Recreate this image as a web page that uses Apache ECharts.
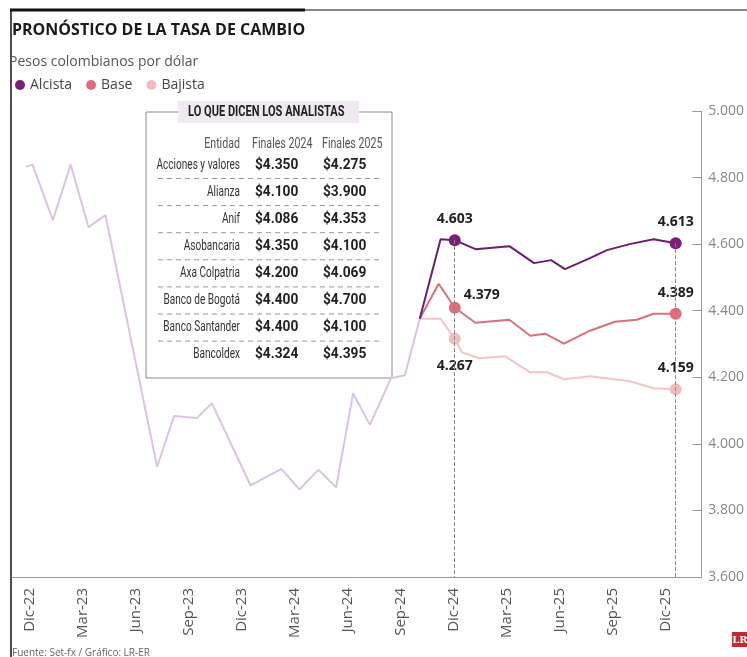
<!DOCTYPE html>
<html>
<head>
<meta charset="utf-8">
<script src="https://cdn.jsdelivr.net/npm/echarts@6/dist/echarts.min.js"></script>
<style>
  html, body { margin: 0; padding: 0; background: #fff; }
  #chart { width: 747px; height: 657px; }
</style>
</head>
<body>
<div id="chart"></div>
<script>
// eje x en meses contados desde dic-22 (0 = Dic-22)
const mesesTick = [0, 3, 6, 9, 12, 15, 18, 21, 24, 27, 30, 33, 36];
const etiquetasMes = ['Dic-22', 'Mar-23', 'Jun-23', 'Sep-23', 'Dic-23', 'Mar-24', 'Jun-24',
  'Sep-24', 'Dic-24', 'Mar-25', 'Jun-25', 'Sep-25', 'Dic-25'];

// historico
const histMes = [-0.21, 0.16, 1.31, 2.32, 3.33, 4.29, 7.21, 8.17, 9.47, 10.31, 12.5, 14.24,
  15.26, 16.33, 17.34, 18.3, 19.25, 20.44, 21.23, 22.07];
const histValor = [4833, 4839, 4672, 4839, 4651, 4687, 3931, 4084, 4078, 4122, 3875, 3925,
  3863, 3922, 3869, 4152, 4057, 4197, 4206, 4376];

// escenarios
const alcistaMes = [22.07, 23.25, 24.05, 25.22, 27.14, 28.54, 29.5, 30.29, 31.7, 32.66, 33.95, 35.3, 36.55];
const alcistaValor = [4376, 4615, 4612, 4585, 4594, 4543, 4552, 4525, 4558, 4582, 4600, 4615, 4603];
const baseMes = [22.07, 23.14, 24.05, 25.22, 27.14, 28.32, 29.16, 30.23, 31.7, 33.11, 34.35, 35.3, 36.55];
const baseValor = [4376, 4481, 4409, 4364, 4373, 4325, 4331, 4301, 4340, 4367, 4373, 4391, 4391];
const bajistaMes = [22.07, 23.25, 24.05, 24.45, 25.44, 26.91, 28.32, 29.27, 30.23, 31.7, 33.95, 35.3, 36.55];
const bajistaValor = [4376, 4376, 4316, 4275, 4257, 4263, 4215, 4215, 4194, 4203, 4188, 4167, 4164];

// etiquetas de los puntos marcados [dic-24, dic-25]
const etqAlcista = ['4.603', '4.613'];
const etqBase = ['4.379', '4.389'];
const etqBajista = ['4.267', '4.159'];
const idxMarcados = [2, 12];

// tabla de analistas
const entidades = ['Acciones y valores', 'Alianza', 'Anif', 'Asobancaria', 'Axa Colpatria',
  'Banco de Bogotá', 'Banco Santander', 'Bancoldex'];
const finales2024 = ['$4.350', '$4.100', '$4.086', '$4.350', '$4.200', '$4.400', '$4.400', '$4.324'];
const finales2025 = ['$4.275', '$3.900', '$4.353', '$4.100', '$4.069', '$4.700', '$4.100', '$4.395'];

const FONT = '"Open Sans", sans-serif';
const TABLA = 'Roboto, sans-serif';

const lblStyle = { fontFamily: FONT, fontWeight: 'bold', fontSize: 14, color: '#222' };

function serieEscenario(nombre, meses, valores, etiquetas, colorLinea, colorPunto, posiciones) {
  const data = meses.map((m, i) => {
    const k = idxMarcados.indexOf(i);
    if (k < 0) return [m, valores[i]];
    return {
      value: [m, valores[i]],
      symbol: 'circle',
      symbolSize: 12,
      itemStyle: { color: colorPunto },
      label: Object.assign({ show: true, formatter: etiquetas[k] }, lblStyle, posiciones[k])
    };
  });
  return {
    name: nombre,
    type: 'line',
    symbol: 'none',
    data: data,
    lineStyle: { color: colorLinea, width: 2 },
    itemStyle: { color: colorPunto },
    z: 3
  };
}

// texto angosto para la tabla (fuente comprimida en x)
function textoTabla(txt, x, y, align, font, color, sx) {
  return {
    type: 'text', x: x, y: y, scaleX: sx, z: 3,
    style: { text: txt, font: font, fill: color, align: align, verticalAlign: 'middle' }
  };
}

const graficos = [];
// lineas superiores y borde
graficos.push({ type: 'line', shape: { x1: 10, y1: 10, x2: 305, y2: 10 }, style: { stroke: '#111', lineWidth: 3 } });
graficos.push({ type: 'line', shape: { x1: 305, y1: 10, x2: 747, y2: 10 }, style: { stroke: '#888', lineWidth: 2 } });
graficos.push({ type: 'line', shape: { x1: 11, y1: 9, x2: 11, y2: 657 }, style: { stroke: '#111', lineWidth: 1.5 } });
graficos.push({ type: 'text', left: 12, top: 22, style: { text: 'PRONÓSTICO DE LA TASA DE CAMBIO', font: 'bold 16px ' + FONT, fill: '#1a1a1a' } });
graficos.push({ type: 'text', left: 9, top: 55, style: { text: 'Pesos colombianos por dólar', font: '14px ' + FONT, fill: '#555' } });

// caja de la tabla
graficos.push({ type: 'rect', shape: { x: 146, y: 112, width: 246, height: 266 }, style: { fill: '#fff', stroke: '#8a8a8a', lineWidth: 1 }, z: 1 });
graficos.push({ type: 'rect', shape: { x: 178, y: 101, width: 181, height: 22 }, style: { fill: '#efe8f0' }, z: 2 });
graficos.push(textoTabla('LO QUE DICEN LOS ANALISTAS', 188, 112, 'left', 'bold 14px ' + TABLA, '#222', 0.79));
[['Entidad', 240, 'right'], ['Finales 2024', 252, 'left'], ['Finales 2025', 322, 'left']].forEach(h => {
  graficos.push(textoTabla(h[0], h[1], 144, h[2], '14px ' + TABLA, '#555', 0.76));
});
entidades.forEach((e, i) => {
  const y = 165 + i * 27.1;
  graficos.push(textoTabla(e, 240, y, 'right', '14px ' + TABLA, '#333', 0.72));
  graficos.push(textoTabla(finales2024[i], 255, y, 'left', 'bold 14px ' + TABLA, '#222', 0.98));
  graficos.push(textoTabla(finales2025[i], 323, y, 'left', 'bold 14px ' + TABLA, '#222', 0.98));
  if (i < entidades.length - 1) {
    graficos.push({ type: 'line', shape: { x1: 158, y1: y + 13.5, x2: 380, y2: y + 13.5 }, style: { stroke: '#999', lineWidth: 1, lineDash: [5, 4] }, z: 3 });
  }
});

// fuente y logo
graficos.push({ type: 'text', left: 12, top: 648, style: { text: 'Fuente: Set-fx / Gráfico: LR-ER', font: '10px ' + FONT, fill: '#666' } });
graficos.push({ type: 'rect', shape: { x: 732, y: 632, width: 16, height: 15 }, style: { fill: '#c62a30' } });
graficos.push({ type: 'text', x: 740, y: 640, style: { text: 'LR', font: 'bold 10px "DejaVu Serif", serif', fill: '#fff', align: 'center', verticalAlign: 'middle' } });

const chart = echarts.init(document.getElementById('chart'));
chart.setOption({
  animation: false,
  backgroundColor: '#fff',
  textStyle: { fontFamily: FONT },
  grid: { left: 12, right: 42, top: 111, bottom: 80 },
  legend: {
    data: ['Alcista', 'Base', 'Bajista'],
    left: 10,
    top: 73,
    icon: 'circle',
    itemWidth: 10,
    itemHeight: 10,
    itemGap: 14,
    textStyle: { fontFamily: FONT, fontSize: 14, color: '#444' }
  },
  xAxis: {
    type: 'value',
    min: -1,
    max: 38,
    axisLine: { show: true, onZero: false, lineStyle: { color: '#999', width: 1 } },
    axisTick: { show: false },
    splitLine: { show: false },
    axisLabel: {
      customValues: mesesTick,
      formatter: v => etiquetasMes[mesesTick.indexOf(v)],
      rotate: 90,
      margin: 11,
      fontSize: 15,
      color: '#555',
      fontFamily: FONT
    }
  },
  yAxis: {
    type: 'value',
    position: 'right',
    min: 3600,
    max: 5000,
    interval: 200,
    axisLine: { show: true, onZero: false, lineStyle: { color: '#999', width: 1 } },
    axisTick: { show: true, inside: true, length: 9, lineStyle: { color: '#999' } },
    splitLine: { show: false },
    axisLabel: {
      formatter: v => (v / 1000).toFixed(3),
      margin: 7,
      fontSize: 14,
      color: '#888',
      fontFamily: FONT
    }
  },
  graphic: graficos,
  series: [
    {
      name: 'Histórico',
      type: 'line',
      symbol: 'none',
      data: histMes.map((m, i) => [m, histValor[i]]),
      lineStyle: { color: '#d9c6de', width: 2 },
      z: 2
    },
    serieEscenario('Bajista', bajistaMes, bajistaValor, etqBajista, '#f3c5c6', '#f1bcbf',
      [{ position: 'bottom', distance: 14 }, { position: 'top', distance: 8 }]),
    serieEscenario('Base', baseMes, baseValor, etqBase, '#d9707f', '#e26a7b',
      [{ position: 'top', distance: 4, offset: [27, 4] }, { position: 'top', distance: 8 }]),
    Object.assign(
      serieEscenario('Alcista', alcistaMes, alcistaValor, etqAlcista, '#6b1f70', '#7a1e79',
        [{ position: 'top', distance: 8 }, { position: 'top', distance: 8 }]),
      {
        markLine: {
          silent: true,
          symbol: 'none',
          label: { show: false },
          lineStyle: { type: 'dashed', color: '#888', width: 1 },
          data: idxMarcados.map(i => [
            { coord: [alcistaMes[i], alcistaValor[i]] },
            { coord: [alcistaMes[i], 3600] }
          ])
        }
      }
    )
  ]
});
</script>
</body>
</html>
